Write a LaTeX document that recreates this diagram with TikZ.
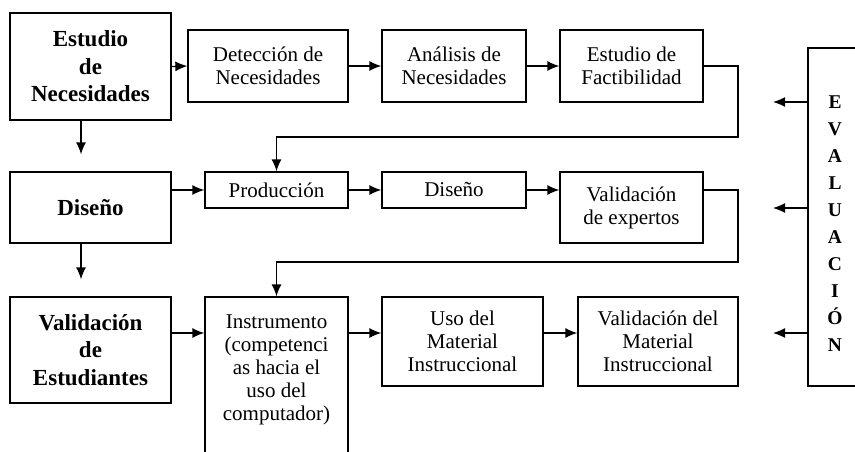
\documentclass[tikz,border=0pt]{standalone}
\usepackage{fontspec}
\setmainfont{Liberation Serif}
\usepackage{tikz}
\usetikzlibrary{
  arrows.meta
}

\begin{document}
\begin{tikzpicture}[x=1pt, y=-1pt,
    every node/.style={rectangle, inner sep=0pt, align=center},
    field/.style={draw, line width=1.3pt, font=\fontsize{21}{23}\selectfont},
    stage/.style={field, minimum width=161pt, font=\bfseries\fontsize{23}{27.5}\selectfont},
    link/.style={line width=1.3pt, -{Latex[length=12pt, width=10pt]}}]
\useasboundingbox (0,0) rectangle (855,452);
\node [stage, minimum height=107pt] (estudio) at (90.5,66.5) {Estudio\\de\\Necesidades};
\node [field, minimum width=160pt, minimum height=72pt] (deteccion) at (268,66) {Detección de\\Necesidades};
\node [field, minimum width=144pt, minimum height=72pt] (analisis) at (454,66) {Análisis de\\Necesidades};
\node [field, minimum width=143pt, minimum height=72pt] (factibilidad) at (631.5,66) {Estudio de\\Factibilidad};
\node [stage, minimum height=71pt] (diseno) at (90.5,207.5) {Diseño};
\node [field, minimum width=143pt, minimum height=36pt] (produccion) at (276.5,190) {Producción};
\node [field, minimum width=144pt, minimum height=36pt] (disenoB) at (454,190) {Diseño};
\node [field, minimum width=143pt, minimum height=71pt] (validExp) at (631.5,207.5) {Validación\\de expertos};
\node [stage, minimum height=106pt] (validEst) at (90.5,350) {Validación\\de\\Estudiantes};
\node [field, minimum width=143pt, minimum height=178pt] (instrumento) at (276.5,386) {Instrumento\\(competenci\\as hacia el\\uso del\\computador)\rule[-37pt]{0pt}{37pt}};
\node [field, minimum width=161pt, minimum height=89pt] (uso) at (462.5,341.5) {Uso del\\Material\\Instruccional};
\node [field, minimum width=160pt, minimum height=89pt] (validMat) at (658,341.5) {Validación del\\Material\\Instruccional};
\node [field, minimum width=54pt, minimum height=338pt, font=\bfseries\fontsize{19.5}{26.9}\selectfont] (evaluacion) at (835,217) {\rule{0pt}{26pt}E\\V\\A\\L\\U\\A\\C\\I\\Ó\\N};
\coordinate (loopA) at (738,137);
\coordinate (loopB) at (738,262);
\coordinate (row3) at (0,333);
\coordinate (ev1) at (773,102);
\coordinate (ev2) at (773,208);
\coordinate (ev3) at (773,333);
\draw [link] (estudio.east) -- (deteccion.west);
\draw [link] (deteccion.east) -- (analisis.west);
\draw [link] (analisis.east) -- (factibilidad.west);
\draw [link] (factibilidad.east) -| (loopA) -| (produccion.north);
\draw [link] ([xshift=-9.5pt]estudio.south) -- ([xshift=-9.5pt, yshift=17pt]diseno.north);
\draw [link] (diseno.east |- produccion.west) -- (produccion.west);
\draw [link] (produccion.east) -- (disenoB.west);
\draw [link] (disenoB.east) -- (validExp.west |- disenoB.east);
\draw [link] (validExp.east |- disenoB.east) -| (loopB) -| (instrumento.north);
\draw [link] ([xshift=-9.5pt]diseno.south) -- ([xshift=-9.5pt, yshift=17pt]validEst.north);
\draw [link] (validEst.east |- row3) -- (instrumento.west |- row3);
\draw [link] (instrumento.east |- row3) -- (uso.west |- row3);
\draw [link] (uso.east |- row3) -- (validMat.west |- row3);
\draw [link] (evaluacion.west |- ev1) -- (ev1);
\draw [link] (evaluacion.west |- ev2) -- (ev2);
\draw [link] (evaluacion.west |- ev3) -- (ev3);
\end{tikzpicture}
\end{document}
